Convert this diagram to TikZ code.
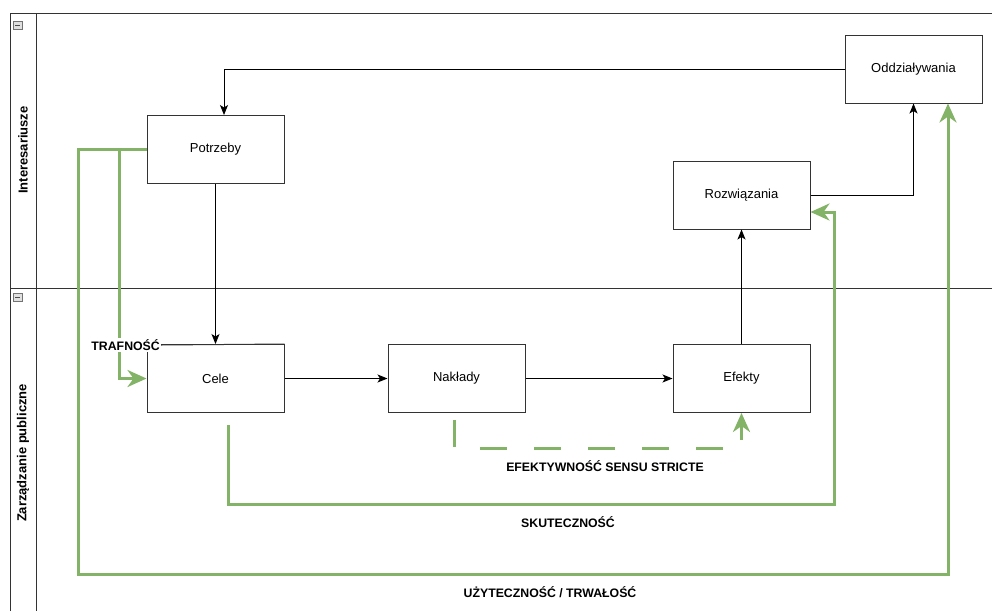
\documentclass[tikz,border=0pt]{standalone}
\usepackage{fontspec}
\setmainfont{Liberation Sans}
\usetikzlibrary{arrows.meta}
\definecolor{grn}{HTML}{82B366}
\definecolor{edge}{HTML}{333333}
\begin{document}
\begin{tikzpicture}[x=1pt,y=-1pt,
  box/.style={draw=edge, line width=1pt, fill=white, minimum width=137pt, minimum height=68pt, inner sep=0pt, font=\fontsize{13}{15}\selectfont},
  blk/.style={draw=black, line width=0.9pt, -{Stealth[length=10pt,width=8pt,inset=2.5pt]}},
  grnline/.style={draw=grn, line width=3pt, line join=miter, -{Stealth[length=19pt,width=17pt,inset=6pt]}},
  lbl/.style={font=\bfseries\fontsize{12.3}{14}\selectfont, inner sep=1pt},
  lane/.style={draw=edge, line width=1pt},
  hdr/.style={font=\bfseries\fontsize{13}{15}\selectfont, rotate=90, inner sep=0pt},
  minus/.style={draw=black!55, fill=black!12, minimum width=9pt, minimum height=8pt, inner sep=0pt, line width=0.5pt}
]
\useasboundingbox (0,0) rectangle (992,611);
% pool structure
\draw[lane] (10,611) -- (10,13) -- (992,13);
\draw[lane] (36,13) -- (36,611);
\draw[lane] (10,288) -- (992,288);
\node[hdr] (h1) at (23,150) {Interesariusze};
\node[hdr] (h2) at (23,453) {Zarządzanie publiczne};
\node[minus] (m1) at (17.5,25) {};
\draw[black!70, line width=1pt] ([xshift=-2.5pt]m1.center) -- ([xshift=2.5pt]m1.center);
\node[minus] (m2) at (17.5,297) {};
\draw[black!70, line width=1pt] ([xshift=-2.5pt]m2.center) -- ([xshift=2.5pt]m2.center);

% boxes
\node[box] (pot) at (215.5,149.5) {Potrzeby};
\node[box] (cele) at (215.5,378.5) {Cele};
\node[box] (nak) at (456.5,378.5) {Nakłady};
\node[box] (ef) at (741.5,378.5) {Efekty};
\node[box] (roz) at (741.5,195) {Rozwiązania};
\node[box] (odd) at (913.5,69) {Oddziaływania};

% black connectors
\draw[blk] (odd.west) -| ([xshift=8.5pt]pot.north);
\draw[blk] (pot.south) -- (cele.north);
\draw[blk] (cele.east) -- (nak.west);
\draw[blk] (nak.east) -- (ef.west);
\draw[blk] (ef.north) -- (roz.south);
\draw[blk] (roz.east) -| (odd.south);

% green connectors
\coordinate (ua) at (78,149.5);
\coordinate (ub) at (78,574);
\coordinate (uc) at (948,574);
\coordinate (tr) at (119,149.5);
\coordinate (sa) at (228,425);
\coordinate (sb) at (228,504);
\coordinate (sc) at (834,504);
\coordinate (sd) at (834,212);
\coordinate (ea) at (454,420);
\coordinate (eb) at (454,448);
\coordinate (ec) at (741.5,448);

\draw[grnline] (pot.west) -- (ua) -- (ub) -- (uc) -- ([xshift=34.5pt]odd.south);
\draw[grnline] (tr) |- (cele.west);
\draw[grnline] (sa) -- (sb) -- (sc) -- (sd) -- (roz.east |- sd);
\draw[grnline, dash pattern=on 27pt off 27pt] (ea) -- (eb) -- (ec) -- (ef.south);

% labels
\node[lbl, fill=white, anchor=east] (ltr) at (161,345) {TRAFNOŚĆ};
\draw[edge, line width=1pt] (ltr.east) -- (cele.north east);
\node[lbl] (lef) at (605,466) {EFEKTYWNOŚĆ SENSU STRICTE};
\node[lbl] (lsk) at (568,522) {SKUTECZNOŚĆ};
\node[lbl] (luz) at (550,592) {UŻYTECZNOŚĆ / TRWAŁOŚĆ};
\end{tikzpicture}
\end{document}
